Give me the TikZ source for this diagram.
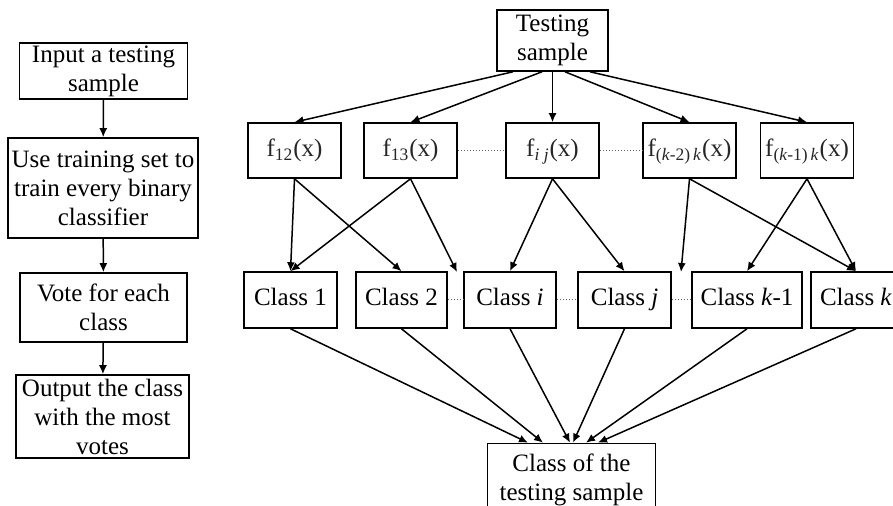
\documentclass[tikz,border=0pt]{standalone}
\usepackage{fontspec}
\setmainfont{Liberation Serif}
\usetikzlibrary{arrows.meta}
\begin{document}
\begin{tikzpicture}[x=0.5pt,y=-0.5pt,>={Latex[length=4.5pt,width=4pt]}]
  \clip (0,0) rectangle (893,506);
  \begin{scope}[font=\fontsize{12.5}{14.5}\selectfont]
    \tikzstyle{bnode} = [line width=0.8pt, draw=black, rectangle, inner sep=1pt, align=center]
    \tikzstyle{fnode} = [bnode, minimum width=46.5pt, minimum height=27.5pt, text height=8.5pt, text depth=2.5pt, text=black!85]
    \tikzstyle{cnode} = [bnode, minimum height=28pt, text height=8.5pt, text depth=2.5pt]
    \tikzstyle{link} = [line width=0.75pt, ->]
    \tikzstyle{gap} = [densely dotted, draw=black!60, line width=0.5pt]

    % flow chart on the left
    \node[bnode, minimum width=84pt, minimum height=28pt] (s1) at (103.5,71) {Input a testing\\sample};
    \node[bnode, minimum width=95pt, minimum height=50pt] (s2) at (103,188) {Use training set to\\train every binary\\classifier};
    \node[bnode, minimum width=83.5pt, minimum height=34.5pt] (s3) at (103.5,307.5) {Vote for each\\class};
    \node[bnode, minimum width=86.5pt, minimum height=41.5pt] (s4) at (102.5,416.5) {Output the class\\with the most\\votes};

    \draw[link] (s1) -- (s2);
    \draw[link] (s2) -- (s3);
    \draw[link] (s3) -- (s4);

    % voting tree
    \node[bnode, minimum width=55.5pt, minimum height=30.5pt] (ts) at (552.5,40.5) {Testing\\sample};

    \node[fnode] (f12) at (294.5,150.5) {f\textsubscript{12}(x)};
    \node[fnode] (f13) at (410.5,150.5) {f\textsubscript{13}(x)};
    \node[fnode] (fij) at (552.5,150.5) {f\textsubscript{\textit{i j}}(x)};
    \node[fnode] (fk2) at (689.5,150.5) {f\textsubscript{(\textit{k}-2)\,\textit{k}}(x)};
    \node[fnode] (fk1) at (807,150.5) {f\textsubscript{(\textit{k}-1)\,\textit{k}}(x)};

    \node[cnode, minimum width=46.5pt] (c1) at (290.5,300) {Class 1};
    \node[cnode, minimum width=45.5pt] (c2) at (401.5,300) {Class 2};
    \node[cnode, minimum width=46pt] (ci) at (510,300) {Class \textit{i}};
    \node[cnode, minimum width=46.5pt] (cj) at (624.5,300) {Class \textit{j}};
    \node[cnode, minimum width=55pt] (ck1) at (747,300) {Class \textit{k}-1};
    \node[cnode, minimum width=45pt] (ck) at (856,300) {Class \textit{k}};
    \coordinate (g1) at (457,272);
    \coordinate (g2) at (681,272);

    \node[bnode, minimum width=84pt, minimum height=36pt] (res) at (571.5,479.5) {Class of the\\testing sample};

    \draw[link] ([xshift=-19.75pt]ts.south) -- (f12.north);
    \draw[link] ([xshift=-5.25pt]ts.south) -- (f13.north);
    \draw[link] (ts.south) -- (fij.north);
    \draw[link] ([xshift=6.25pt]ts.south) -- (fk2.north);
    \draw[link] ([xshift=18.75pt]ts.south) -- (fk1.north);

    \draw[gap] (f13) -- (fij);
    \draw[gap] (fij) -- (fk2);

    \draw[link] (f12.south) -- (c1.north);
    \draw[link] (f12.south) -- (c2.north);
    \draw[link] (f13.south) -- (c1.north);
    \draw[link] (f13.south) -- (g1);
    \draw[link] (fij.south) -- (ci.north);
    \draw[link] (fij.south) -- (cj.north);
    \draw[link] (fk2.south) -- (g2);
    \draw[link] (fk2.south) -- (ck.north);
    \draw[link] (fk1.south) -- (ck1.north);
    \draw[link] (fk1.south) -- (ck.north);

    \draw[gap] (c2) -- (ci);
    \draw[gap] (ci) -- (cj);
    \draw[gap] (cj) -- (ck1);

    \draw[link] (c1.south) -- ([xshift=-21.75pt]res.north);
    \draw[link] (c2.south) -- ([xshift=-14.25pt]res.north);
    \draw[link] (ci.south) -- ([xshift=-0.75pt]res.north);
    \draw[link] (cj.south) -- ([xshift=0.75pt]res.north);
    \draw[link] (ck1.south) -- ([xshift=7.25pt]res.north);
    \draw[link] (ck.south) -- ([xshift=13.25pt]res.north);
  \end{scope}
\end{tikzpicture}
\end{document}
